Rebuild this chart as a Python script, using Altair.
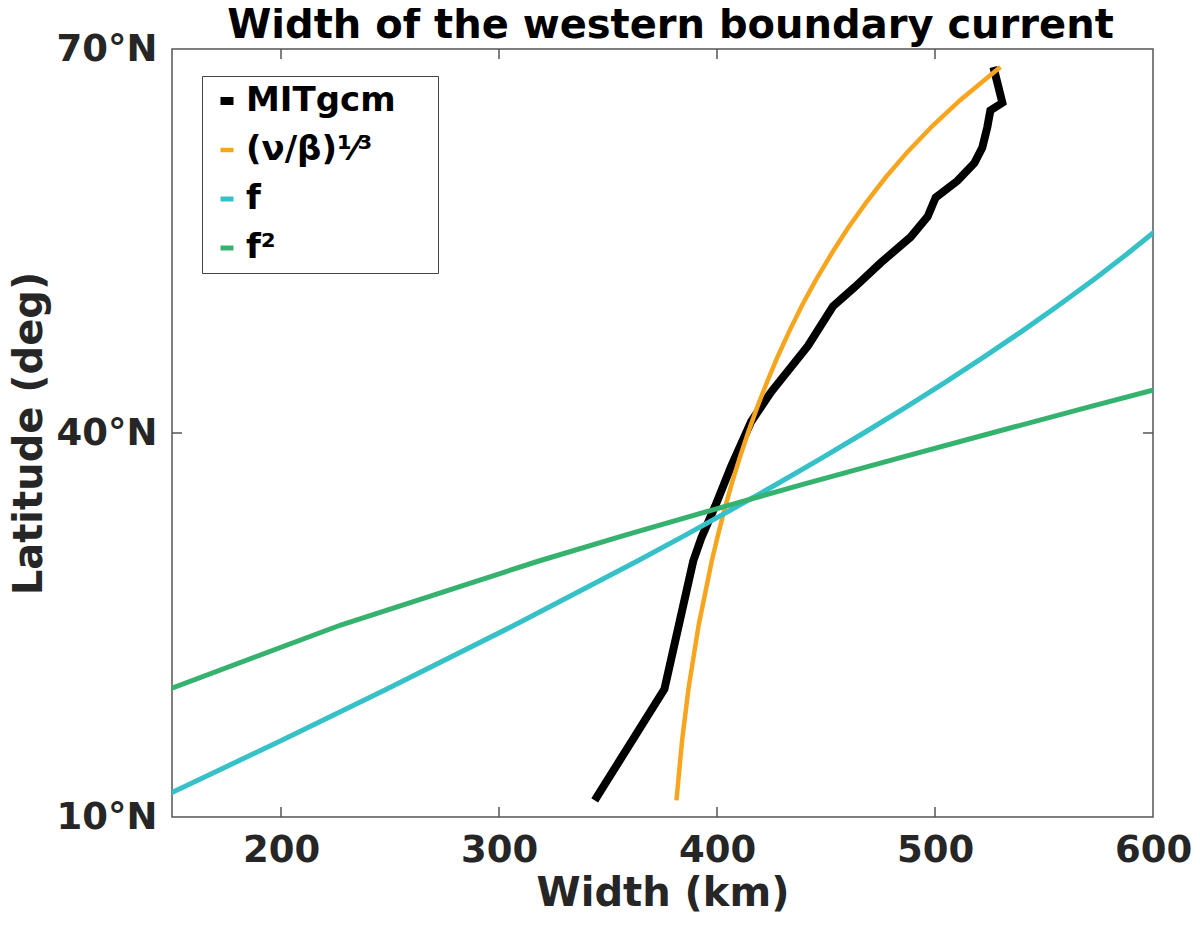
import altair as alt
import pandas as pd

# ---- data ----
series_names = ["MITgcm", "(ν/β)¹⁄³", "f", "f²"]
series_colors = ["#000000", "#F7A51E", "#35C1C7", "#36B26F"]
series_widths = [8, 4.5, 5, 5]

lat_model = [11.3, 20.0, 30.0, 31.8, 34.3, 37.4, 40.9, 43.2, 46.8, 49.9, 51.4,
             53.3, 55.3, 56.9, 58.4, 59.7, 61.1, 62.3, 63.9, 65.2, 65.8, 68.6]
width_model = [343.9, 375.9, 389.1, 392.8, 399.2, 406.5, 415.7, 424.8, 441.7, 453.2, 463.2,
               475.1, 488.8, 496.6, 500.3, 510.3, 518.1, 521.7, 524.0, 525.4, 530.9, 526.8]

lat_theory = [11.3, 16, 20, 25, 30, 32, 34, 36, 38, 40, 42, 44, 46, 48, 50, 52, 54,
              56, 58, 60, 62, 64, 66, 68, 68.6]
width_nu_beta = [381.4, 384.0, 386.9, 391.6, 397.6, 400.4, 403.4, 406.7, 410.3, 414.2,
                 418.4, 423.0, 427.9, 433.3, 439.1, 445.5, 452.5, 460.0, 468.4, 477.5,
                 487.6, 498.9, 511.5, 525.8, 530.0]
width_f = [142.5, 200.4, 248.6, 307.2, 363.5, 385.3, 406.5, 427.3, 447.6, 467.3,
           486.5, 505.0, 523.0, 540.3, 556.9, 572.9, 588.2, 602.7, 616.5, 629.6,
           641.9, 653.4, 664.2, 674.1, 676.9]

lat_f2 = [11.3, 16, 20, 25, 30, 32, 34, 36, 38, 40, 42, 44, 46]
width_f2 = [48.9, 96.7, 148.9, 227.4, 318.3, 357.5, 398.1, 439.8, 482.5, 526.0,
            569.9, 614.3, 658.7]

x_ticks = [200, 300, 400, 500, 600]
y_ticks = [10, 40, 70]
x_inner_ticks = [200, 300, 400, 500]
y_inner_ticks = [40]

rows = []
for name, lats, ws in [(series_names[0], lat_model, width_model),
                       (series_names[1], lat_theory, width_nu_beta),
                       (series_names[2], lat_theory, width_f),
                       (series_names[3], lat_f2, width_f2)]:
    for i, (la, w) in enumerate(zip(lats, ws)):
        rows.append({"series": name, "lat": la, "width": w, "i": i})
df = pd.DataFrame(rows)

W, H = 981, 768
xscale = alt.Scale(domain=[150, 600], nice=False, zero=False)
yscale = alt.Scale(domain=[10, 70], nice=False, zero=False)
xaxis = alt.Axis(values=x_ticks, labelFlush=False, labelPadding=15, titlePadding=5)
yaxis = alt.Axis(values=y_ticks, labelExpr="datum.value + '°N'",
                 labelPadding=15, titlePadding=7)
XT, YT = "Width (km)", "Latitude (deg)"

lines = alt.Chart(df).mark_line(clip=True).encode(
    x=alt.X("width:Q", scale=xscale, title=XT, axis=xaxis),
    y=alt.Y("lat:Q", scale=yscale, title=YT, axis=yaxis),
    color=alt.Color("series:N",
                    scale=alt.Scale(domain=series_names, range=series_colors),
                    legend=alt.Legend(orient="none", legendX=30, legendY=27, title=None,
                                      labelFont="DejaVu Sans", labelFontSize=34,
                                      labelFontWeight="bold", labelColor="black",
                                      symbolType="stroke", symbolSize=169,
                                      symbolStrokeWidth=5.5, labelOffset=2,
                                      padding=8, rowPadding=15, labelLimit=500,
                                      strokeColor="#444444", fillColor="white",
                                      labelExpr="datum.label + '\u2003\u200b'")),
    strokeWidth=alt.StrokeWidth("series:N",
                                scale=alt.Scale(type="ordinal", domain=series_names,
                                                range=series_widths),
                                legend=None),
    order="i:Q",
)

xt = pd.DataFrame({"width": x_inner_ticks})
yt = pd.DataFrame({"lat": y_inner_ticks})
tick_style = dict(color="#555555", strokeWidth=1.5)
tb = alt.Chart(xt).mark_rule(**tick_style).encode(
    x=alt.X("width:Q", scale=xscale, title=XT, axis=xaxis), y=alt.value(H), y2=alt.value(H - 10))
tt = alt.Chart(xt).mark_rule(**tick_style).encode(
    x=alt.X("width:Q", scale=xscale, title=XT, axis=xaxis), y=alt.value(0), y2=alt.value(10))
tl = alt.Chart(yt).mark_rule(**tick_style).encode(
    y=alt.Y("lat:Q", scale=yscale, title=YT, axis=yaxis), x=alt.value(0), x2=alt.value(10))
tr = alt.Chart(yt).mark_rule(**tick_style).encode(
    y=alt.Y("lat:Q", scale=yscale, title=YT, axis=yaxis), x=alt.value(W), x2=alt.value(W - 10))

chart = alt.layer(lines, tb, tt, tl, tr).properties(
    width=W, height=H,
    title=alt.TitleParams("Width of the western boundary current", dx=8),
    padding={"left": 1, "top": -2, "right": 0, "bottom": 0},
    background="white",
).configure_axis(
    labelFont="DejaVu Sans", labelFontSize=37, labelFontWeight="bold",
    labelColor="#262626", titleFont="DejaVu Sans", titleFontSize=40,
    titleFontWeight="bold", titleColor="#262626", grid=False, domain=False,
    ticks=False, tickSize=0,
).configure_view(
    stroke="#555555", strokeWidth=1.5,
).configure_title(
    font="DejaVu Sans", fontSize=40, fontWeight="bold", color="black", offset=-16,
)

chart.save("out.html", embed_options={"renderer": "svg", "actions": False})
